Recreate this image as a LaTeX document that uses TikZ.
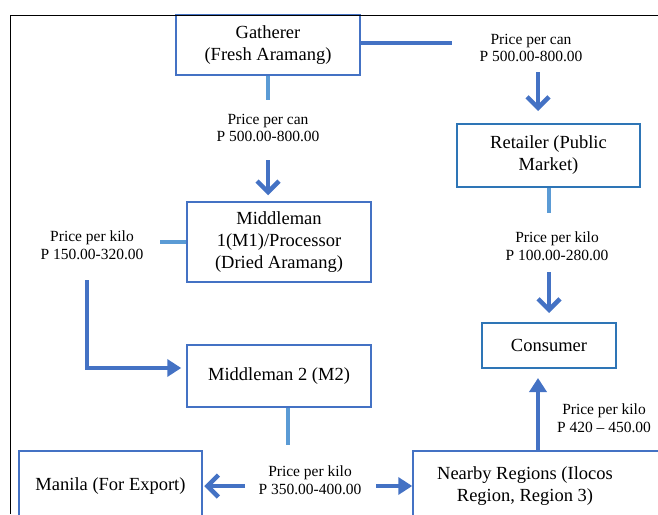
\documentclass[tikz,border=0pt]{standalone}
\usepackage{fontspec}
\setmainfont{Liberation Serif}
\usetikzlibrary{arrows.meta}
\definecolor{bxblue}{HTML}{4472C4}
\definecolor{bxbluetwo}{HTML}{2E75B6}
\definecolor{stubblue}{HTML}{5B9BD5}
\definecolor{arrblue}{HTML}{4472C4}
\begin{document}
\begin{tikzpicture}[x=1pt,y=-1pt,
  box/.style={draw=bxblue, line width=1.5pt, font=\fontsize{18.5}{22}\selectfont, align=center, inner sep=0pt},
  boxtwo/.style={box, draw=bxbluetwo, line width=2pt},
  lab/.style={font=\fontsize{15.5}{17.5}\selectfont, align=center, inner sep=0pt},
  stub/.style={draw=stubblue, line width=4.5pt},
  bar/.style={draw=arrblue, line width=4.5pt},
  arrB/.style={bar, -{Straight Barb[length=11pt,width=22pt]}},
  arrT/.style={bar, -{Triangle[length=14pt,width=17pt]}},
  frameline/.style={draw=black, line width=1pt}]
\useasboundingbox (0,0) rectangle (658,514);
\clip (0,0) rectangle (658,514);

% boxes
\node[box, minimum width=184pt, minimum height=60pt] (gath) at (268,45) {Gatherer\\(Fresh Aramang)};
\node[box, minimum width=184pt, minimum height=80pt] (m1) at (279,242) {Middleman\\1(M1)/Processor\\(Dried Aramang)};
\node[box, minimum width=184pt, minimum height=62pt] (m2) at (279,376) {Middleman 2 (M2)};
\node[box, minimum width=183pt, minimum height=70pt] (manila) at (110.5,486) {Manila (For Export)};
\node[box, minimum width=290pt, minimum height=70pt] (nearby) at (558,486)
  {\begin{tabular}{@{}c@{}}Nearby Regions (Ilocos\\Region, Region 3)\end{tabular}\hspace*{66pt}};
\node[boxtwo, minimum width=183pt, minimum height=63pt] (ret) at (548.5,155.5) {Retailer (Public\\Market)};
\node[boxtwo, minimum width=134pt, minimum height=45pt] (cons) at (549,345.5) {Consumer};

% labels
\node[lab] (l1) at (531,48) {Price per can\\P 500.00-800.00};
\node[lab] (l2) at (268,128) {Price per can\\P 500.00-800.00};
\node[lab] (l3) at (92,245) {Price per kilo\\P 150.00-320.00};
\node[lab] (l4) at (557,246) {Price per kilo\\P 100.00-280.00};
\node[lab] (l5) at (604,418) {Price per kilo\\P 420 \textendash{} 450.00};
\node[lab] (l6) at (310,480) {Price per kilo\\P 350.00-400.00};

% free ends
\coordinate (c1) at (452,43);
\coordinate (c2) at (538,72);
\coordinate (s1) at (268,100);
\coordinate (c3) at (268,160);
\coordinate (s2) at (160,242);
\coordinate (c4) at (87,280);
\coordinate (s3) at (288,445);
\coordinate (c5) at (245,486);
\coordinate (c6) at (376,486);
\coordinate (c7) at (538,451);
\coordinate (s4) at (549,213);
\coordinate (c8) at (549,272);

% connectors
\draw[bar] ([yshift=2pt]gath.east) -- (c1);
\draw[arrB, shorten >=12pt] (c2) -- (c2 |- ret.north);
\draw[stub] (gath.south) -- (s1);
\draw[arrB, shorten >=6pt] (c3) -- (c3 |- m1.north);
\draw[stub] (m1.west) -- (s2);
\draw[arrT, shorten >=5pt] (c4) |- ([yshift=8pt]m2.west);
\draw[stub] ([xshift=9pt]m2.south) -- (s3);
\draw[arrB, shorten >=1.5pt] (c5) -- (manila.east);
\draw[arrT] (c6) -- (nearby.west);
\draw[arrT, shorten >=9pt] (c7) -- (c7 |- cons.south);
\draw[stub] (ret.south -| s4) -- (s4);
\draw[arrB, shorten >=9pt] (c8) -- (cons.north);

% frame
\draw[frameline] (10,514) -- (10,15) -- (658,15);
\end{tikzpicture}
\end{document}
